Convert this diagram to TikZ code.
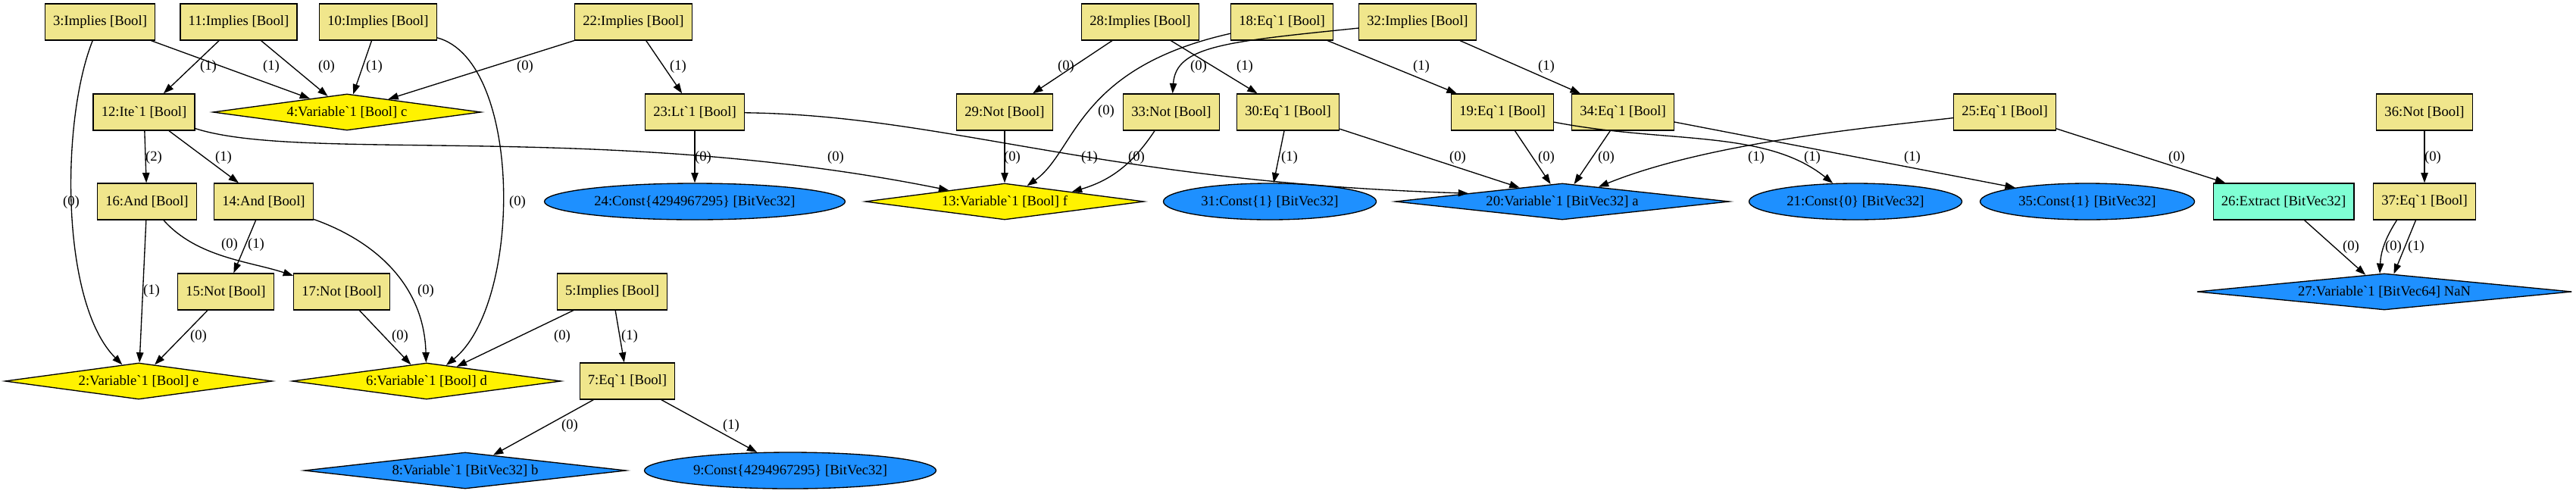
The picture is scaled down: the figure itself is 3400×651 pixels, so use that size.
\documentclass[tikz,border=0pt]{standalone}
\usepackage{fontspec}
\setmainfont{Liberation Serif}[Ligatures=TeXOff]
\usetikzlibrary{shapes.geometric,arrows.meta}
\definecolor{khaki}{HTML}{F0E68C}
\definecolor{dodgerblue}{HTML}{1E90FF}
\definecolor{aquamarine}{HTML}{7FFFD4}
\begin{document}
\begin{tikzpicture}[x=0.75pt,y=-0.75pt,every node/.style={font=\fontsize{14pt}{17pt}\selectfont}]

\tikzstyle{opbox} = [rectangle,draw=black,fill=khaki,line width=1pt,inner xsep=8pt,inner ysep=0pt,minimum height=36pt]
\tikzstyle{arr} = [-{Triangle[length=10pt,width=7pt]},line width=1pt]
\tikzstyle{lbl} = [inner sep=0pt]
\tikzset{boolvar/.style={diamond,aspect=9,draw=black,fill=yellow,line width=1pt,inner sep=0pt,minimum height=36pt,minimum width=#1*0.75pt},
  bvvar/.style={boolvar=#1,fill=dodgerblue},
  bvconst/.style={ellipse,draw=black,fill=dodgerblue,line width=1pt,inner sep=0pt,minimum height=36pt,minimum width=#1*0.75pt}}

\useasboundingbox (0,0) rectangle (3400,651);

% top row
\node[opbox] (n3)  at (132,29)  {3:Implies [Bool]};
\node[opbox] (n11) at (315,29)  {11:Implies [Bool]};
\node[opbox] (n10) at (499,29)  {10:Implies [Bool]};
\node[opbox] (n22) at (836,29)  {22:Implies [Bool]};
\node[opbox] (n28) at (1505,29) {28:Implies [Bool]};
\node[opbox] (n18) at (1692,29) {18:Eq`1 [Bool]};
\node[opbox] (n32) at (1871,29) {32:Implies [Bool]};

% second row
\node[opbox] (n12) at (190,148) {12:Ite`1 [Bool]};
\node[boolvar=354] (n4) at (458,148) {4:Variable`1 [Bool] c};
\node[opbox] (n23) at (917,148) {23:Lt`1 [Bool]};
\node[opbox] (n29) at (1326,148) {29:Not [Bool]};
\node[opbox] (n33) at (1546,148) {33:Not [Bool]};
\node[opbox] (n30) at (1700,148) {30:Eq`1 [Bool]};
\node[opbox] (n19) at (1983,148) {19:Eq`1 [Bool]};
\node[opbox] (n34) at (2142,148) {34:Eq`1 [Bool]};
\node[opbox] (n25) at (2646,148) {25:Eq`1 [Bool]};
\node[opbox] (n36) at (3200,148) {36:Not [Bool]};

% third row
\node[opbox] (n16) at (194,266) {16:And [Bool]};
\node[opbox] (n14) at (348,266) {14:And [Bool]};
\node[bvconst=397] (n24) at (917,266) {24:Const\{4294967295\} [BitVec32]};
\node[boolvar=368] (n13) at (1326,266) {13:Variable`1 [Bool] f};
\node[bvconst=281] (n31) at (1676,266) {31:Const\{1\} [BitVec32]};
\node[bvvar=441] (n20) at (2062,266) {20:Variable`1 [BitVec32] a};
\node[bvconst=281] (n21) at (2449,266) {21:Const\{0\} [BitVec32]};
\node[bvconst=283] (n35) at (2755,266) {35:Const\{1\} [BitVec32]};
\node[opbox,fill=aquamarine] (n26) at (3014,266) {26:Extract [BitVec32]};
\node[opbox] (n37) at (3200,266) {37:Eq`1 [Bool]};

% fourth row
\node[opbox] (n15) at (298,385) {15:Not [Bool]};
\node[opbox] (n17) at (451,385) {17:Not [Bool]};
\node[opbox] (n5)  at (808,385) {5:Implies [Bool]};
\node[bvvar=495] (n27) at (3147,385) {27:Variable`1 [BitVec64] NaN};

% fifth row
\node[boolvar=353] (n2) at (183,503) {2:Variable`1 [Bool] e};
\node[boolvar=355] (n6) at (563,503) {6:Variable`1 [Bool] d};
\node[opbox] (n7) at (828,503) {7:Eq`1 [Bool]};

% bottom row
\node[bvvar=425] (n8) at (614,621) {8:Variable`1 [BitVec32] b};
\node[bvconst=385] (n9) at (1043,621) {9:Const\{4294967295\} [BitVec32]};

% edges from the top row
\draw[arr] (n3) -- (n4) node[lbl] at (358,88) {(1)};
\draw[arr] (n3) .. controls (80,160) and (80,400) .. (n2) node[lbl] at (94,267) {(0)};
\draw[arr] (n11) -- (n12) node[lbl] at (275,88) {(1)};
\draw[arr] (n11) -- (n4) node[lbl] at (431,88) {(0)};
\draw[arr] (n10) -- (n4) node[lbl] at (494,88) {(1)};
\draw[arr] (n10) .. controls (690,80) and (690,400) .. (n6) node[lbl] at (683,267) {(0)};
\draw[arr] (n22) -- (n4) node[lbl] at (693,88) {(0)};
\draw[arr] (n22) -- (n23) node[lbl] at (895,88) {(1)};
\draw[arr] (n28) -- (n29) node[lbl] at (1407,88) {(0)};
\draw[arr] (n28) -- (n30) node[lbl] at (1643,88) {(1)};
\draw[arr] (n18) .. controls (1420,90) and (1420,200) .. (n13) node[lbl] at (1460,147) {(0)};
\draw[arr] (n18) -- (n19) node[lbl] at (1876,88) {(1)};
\draw[arr] (n32) .. controls (1620,55) and (1552,60) .. (n33) node[lbl] at (1582,88) {(0)};
\draw[arr] (n32) -- (n34) node[lbl] at (2041,88) {(1)};

% edges from the second row
\draw[arr] (n12) -- (n16) node[lbl] at (203,208) {(2)};
\draw[arr] (n12) -- (n14) node[lbl] at (295,208) {(1)};
\draw[arr] (n12) .. controls (400,215) and (800,160) .. (n13) node[lbl] at (1103,208) {(0)};
\draw[arr] (n23) -- (n24) node[lbl] at (928,208) {(0)};
\draw[arr] (n23) .. controls (1250,152) and (1450,240) .. (n20.175) node[lbl] at (1438,208) {(1)};
\draw[arr] (n29) -- (n13) node[lbl] at (1336,208) {(0)};
\draw[arr] (n33) to[bend left=20] (n13) node[lbl] at (1500,208) {(0)};
\draw[arr] (n30) -- (n31) node[lbl] at (1702,208) {(1)};
\draw[arr] (n30) -- (n20) node[lbl] at (1924,208) {(0)};
\draw[arr] (n19) -- (n20) node[lbl] at (2041,208) {(0)};
\draw[arr] (n19) .. controls (2200,190) and (2330,170) .. (n21) node[lbl] at (2392,208) {(1)};
\draw[arr] (n34) -- (n20) node[lbl] at (2120,208) {(0)};
\draw[arr] (n34) -- (n35) node[lbl] at (2524,208) {(1)};
\draw[arr] (n25) .. controls (2450,170) and (2250,190) .. (n20) node[lbl] at (2318,208) {(1)};
\draw[arr] (n25) -- (n26) node[lbl] at (2873,208) {(0)};
\draw[arr] (n36) -- (n37) node[lbl] at (3211,208) {(0)};

% edges from the third row
\draw[arr] (n16) .. controls (260,340) and (330,345) .. (n17) node[lbl] at (303,323) {(0)};
\draw[arr] (n16) -- (n2) node[lbl] at (200,384) {(1)};
\draw[arr] (n14) -- (n15) node[lbl] at (338,323) {(1)};
\draw[arr] (n14) .. controls (500,320) and (560,380) .. (n6) node[lbl] at (562,384) {(0)};
\draw[arr] (n26) -- (n27) node[lbl] at (3103,326) {(0)};
\draw[arr] (n37.-146) to[bend right=15] (n27.104) node[lbl] at (3159,326) {(0)};
\draw[arr] (n37.-115) -- (n27.62) node[lbl] at (3189,326) {(1)};

% edges from the fourth row
\draw[arr] (n15) -- (n2) node[lbl] at (262,444) {(0)};
\draw[arr] (n17) -- (n6) node[lbl] at (528,444) {(0)};
\draw[arr] (n5) -- (n6) node[lbl] at (742,444) {(0)};
\draw[arr] (n5) -- (n7) node[lbl] at (831,444) {(1)};

% edges from the fifth row
\draw[arr] (n7) -- (n8) node[lbl] at (752,562) {(0)};
\draw[arr] (n7) -- (n9) node[lbl] at (965,562) {(1)};
\end{tikzpicture}
\end{document}
